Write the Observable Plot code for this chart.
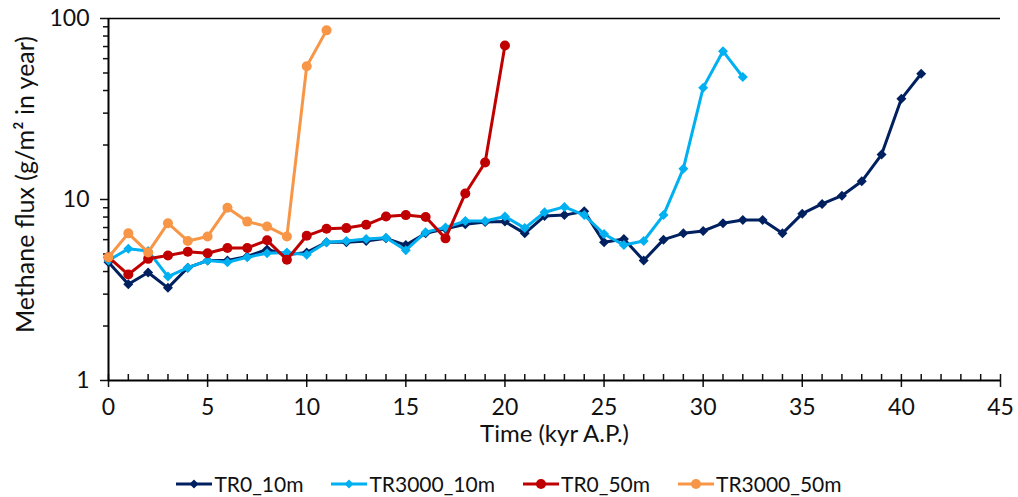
<!DOCTYPE html>
<html><head><meta charset="utf-8">
<script src="https://cdn.jsdelivr.net/npm/d3@7"></script>
<script src="https://cdn.jsdelivr.net/npm/@observablehq/plot@0.6"></script>
<style>
body{margin:0;background:#fff;font-family:Lato,"Open Sans",sans-serif;color:#111}
#legend{display:flex;justify-content:center;gap:28px;font-size:21px;line-height:24px;margin-top:12px}
#legend .item{display:flex;align-items:center;gap:2px}
</style>
</head><body>
<div id="chart"></div>
<div id="legend"></div>
<script>
const seriesNames = ["TR0_10m", "TR3000_10m", "TR0_50m", "TR3000_50m"];
const seriesColors = ["#002060", "#00B0F0", "#C00000", "#F79646"];
const seriesSymbols = ["diamond2", "diamond2", "circle", "circle"];

const TR0_10m = [4.5, 3.4, 3.95, 3.25, 4.2, 4.6, 4.6, 4.85, 5.3, 4.95, 5.1, 5.8, 5.8, 5.9, 6.1, 5.6, 6.5, 6.9, 7.3, 7.5, 7.55, 6.5, 8.1, 8.2, 8.6, 5.8, 6.05, 4.6, 6.0, 6.5, 6.7, 7.4, 7.7, 7.7, 6.5, 8.35, 9.45, 10.5, 12.6, 17.7, 36, 49.5];
const TR3000_10m = [4.6, 5.35, 5.2, 3.75, 4.2, 4.6, 4.5, 4.8, 5.05, 5.1, 4.95, 5.8, 5.9, 6.05, 6.15, 5.25, 6.6, 7.0, 7.6, 7.6, 8.05, 6.95, 8.5, 9.1, 8.2, 6.45, 5.6, 5.9, 8.2, 14.8, 41.5, 66, 47.5];
const TR0_50m = [4.8, 3.85, 4.7, 4.9, 5.15, 5.05, 5.4, 5.4, 5.95, 4.65, 6.3, 6.9, 6.95, 7.25, 8.05, 8.2, 8.0, 6.1, 10.8, 16, 71];
const TR3000_50m = [4.8, 6.5, 5.1, 7.4, 5.9, 6.25, 9.0, 7.55, 7.1, 6.25, 54.5, 86];
const seriesValues = [TR0_10m, TR3000_10m, TR0_50m, TR3000_50m];

const xMajorTicks = [0, 5, 10, 15, 20, 25, 30, 35, 40, 45];
const xMinorTicks = d3.range(0, 46);
const yMajorTicks = [1, 10, 100];
const yMinorTicks = [2, 3, 4, 5, 6, 7, 8, 9, 20, 30, 40, 50, 60, 70, 80, 90];
const xLabel = "Time (kyr A.P.)";
const yLabel = "Methane flux (g/m² in year)";

// time step = 1 kyr, index = time
const rows = seriesNames.map((name, i) => seriesValues[i].map((v, t) => ({s: name, t, v})));

const marks = [
  Plot.ruleY([100], {stroke: "#000", strokeWidth: 1.5}),
  Plot.axisX({ticks: xMinorTicks, tickSize: 6, dy: -6, tickFormat: () => "", label: null, strokeWidth: 1.5}),
  Plot.axisX({ticks: xMajorTicks, tickSize: 7, tickPadding: 11, tickFormat: d => d, label: null, fontSize: 23, strokeWidth: 1.5}),
  Plot.axisY({ticks: yMinorTicks, tickSize: 5, tickFormat: () => "", label: null, strokeWidth: 1.5}),
  Plot.axisY({ticks: yMajorTicks, tickSize: 8, tickPadding: 11, tickFormat: d => d, label: null, fontSize: 23, strokeWidth: 1.5}),
  Plot.ruleX([0], {stroke: "#000", strokeWidth: 2}),
  Plot.ruleY([1], {stroke: "#000", strokeWidth: 2}),
];
seriesNames.forEach((name, i) => {
  marks.push(Plot.line(rows[i], {x: "t", y: "v", stroke: seriesColors[i], strokeWidth: 3}));
  marks.push(Plot.dot(rows[i], {x: "t", y: "v", fill: seriesColors[i], symbol: seriesSymbols[i], r: i < 2 ? 4.5 : 5, stroke: "none"}));
});
marks.push(Plot.text([yLabel], {text: d => d, frameAnchor: "left", textAnchor: "middle", rotate: -90, dx: -83, dy: -15, fontSize: 25, fill: "#111"}));
marks.push(Plot.text([xLabel], {text: d => d, frameAnchor: "bottom", textAnchor: "middle", dy: 61, fontSize: 24, fill: "#111"}));

const chart = Plot.plot({
  width: 1018,
  height: 460,
  marginLeft: 108,
  marginRight: 18,
  marginTop: 18,
  marginBottom: 80,
  style: {fontFamily: "Lato, 'Open Sans', sans-serif", fontSize: "18px", color: "#111", background: "#fff"},
  x: {domain: [0, 45]},
  y: {type: "log", domain: [1, 100]},
  marks
});
document.getElementById("chart").append(chart);

const legend = document.getElementById("legend");
seriesNames.forEach((name, i) => {
  const item = document.createElement("div");
  item.className = "item";
  const sym = seriesSymbols[i] === "circle"
    ? `<circle cx="18" cy="7" r="5" fill="${seriesColors[i]}"/>`
    : `<path d="M18 2.5 L22.5 7 L18 11.5 L13.5 7 Z" fill="${seriesColors[i]}"/>`;
  item.innerHTML = `<svg width="36" height="14"><line x1="0" x2="36" y1="7" y2="7" stroke="${seriesColors[i]}" stroke-width="3"/>${sym}</svg><span>${name}</span>`;
  legend.append(item);
});
</script>
</body></html>
